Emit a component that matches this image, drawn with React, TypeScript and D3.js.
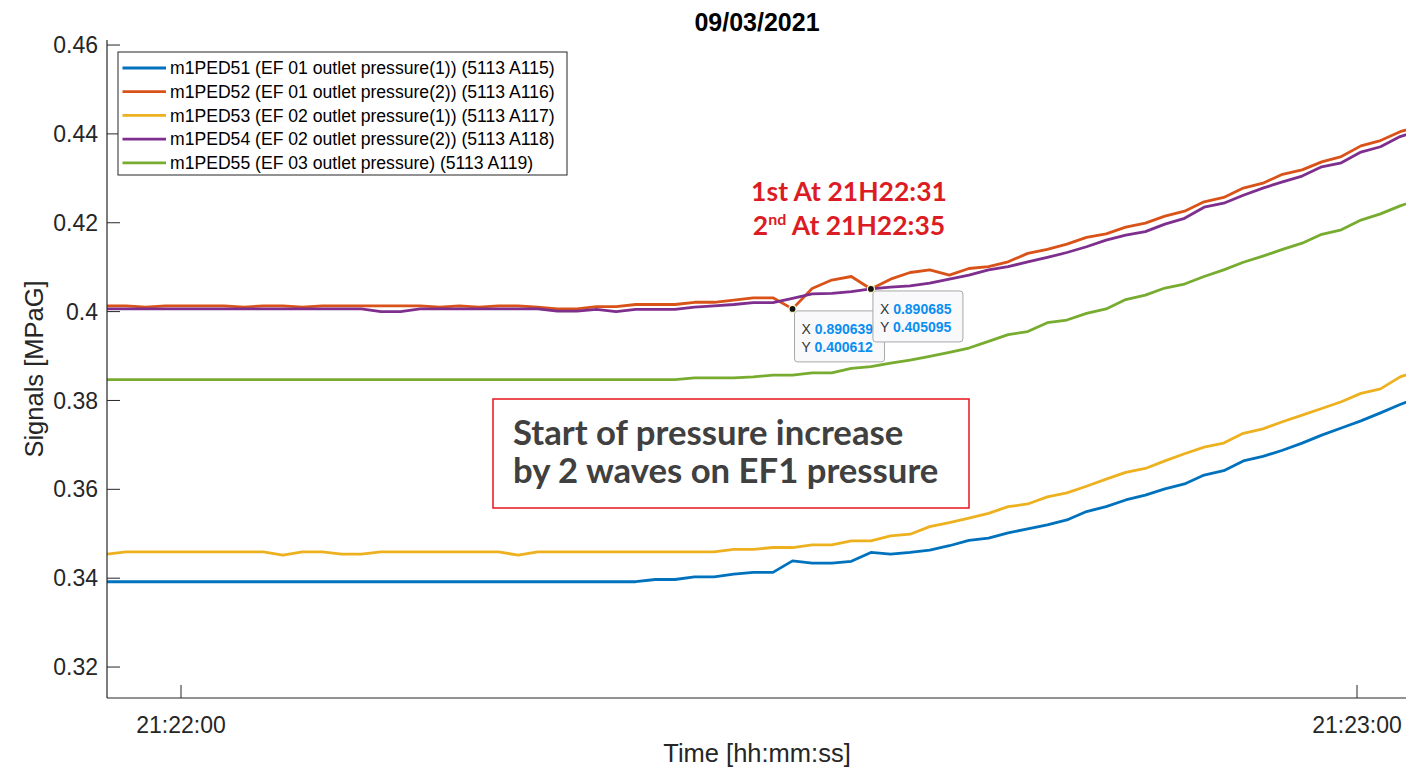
import React from "react";
import * as d3 from "d3";

// ---------- DATA ----------
const TITLE = "09/03/2021";
const SAMPLE_START_S = -3.8; // seconds relative to 21:22:00
const SAMPLE_STEP_S = 1; // 1 Hz sampling
const seriesNames = [
  "m1PED51 (EF 01 outlet pressure(1)) (5113 A115)",
  "m1PED52 (EF 01 outlet pressure(2)) (5113 A116)",
  "m1PED53 (EF 02 outlet pressure(1)) (5113 A117)",
  "m1PED54 (EF 02 outlet pressure(2)) (5113 A118)",
  "m1PED55 (EF 03 outlet pressure) (5113 A119)",
];
const seriesColors = ["#0072BD", "#D95319", "#EDB120", "#7E2F8E", "#77AC30"];

const m1PED51 = [
  0.3392, 0.3392, 0.3392, 0.3392, 0.3392, 0.3392, 0.3392, 0.3392, 0.3392, 0.3392,
  0.3392, 0.3392, 0.3392, 0.3392, 0.3392, 0.3392, 0.3392, 0.3392, 0.3392, 0.3392,
  0.3392, 0.3392, 0.3392, 0.3392, 0.3392, 0.3392, 0.3392, 0.3392, 0.3397, 0.3397,
  0.3403, 0.3403, 0.3409, 0.3413, 0.3413, 0.3439, 0.3434, 0.3434, 0.3438, 0.3458,
  0.3454, 0.3458, 0.3463, 0.3473, 0.3485, 0.349, 0.3502, 0.3511, 0.352, 0.3531,
  0.355, 0.3561, 0.3576, 0.3587, 0.3601, 0.3612, 0.3632, 0.3642, 0.3664, 0.3674,
  0.3688, 0.3704, 0.3722, 0.3738, 0.3754, 0.3772, 0.3791, 0.3808,
];
const m1PED52 = [
  0.4013, 0.4013, 0.401, 0.4013, 0.4013, 0.4013, 0.4013, 0.401, 0.4013, 0.4013,
  0.401, 0.4013, 0.4013, 0.4013, 0.4013, 0.4013, 0.4013, 0.401, 0.4013, 0.401,
  0.4013, 0.4013, 0.401, 0.4006, 0.4006, 0.4011, 0.4011, 0.4016, 0.4016, 0.4016,
  0.4021, 0.4021, 0.4026, 0.4031, 0.4031, 0.400612, 0.4052, 0.4071, 0.4079, 0.405095,
  0.4073, 0.4088, 0.4094, 0.4082, 0.4097, 0.4101, 0.4112, 0.4131, 0.414, 0.4152,
  0.4167, 0.4175, 0.419, 0.4199, 0.4215, 0.4226, 0.4247, 0.4257, 0.4278, 0.4289,
  0.4309, 0.4319, 0.4337, 0.4349, 0.4373, 0.4385, 0.4405, 0.4418,
];
const m1PED53 = [
  0.3454, 0.3459, 0.3459, 0.3459, 0.3459, 0.3459, 0.3459, 0.3459, 0.3459, 0.3452,
  0.3459, 0.3459, 0.3454, 0.3454, 0.3459, 0.3459, 0.3459, 0.3459, 0.3459, 0.3459,
  0.3459, 0.3452, 0.3459, 0.3459, 0.3459, 0.3459, 0.3459, 0.3459, 0.3459, 0.3459,
  0.3459, 0.3459, 0.3465, 0.3465, 0.3469, 0.3469, 0.3475, 0.3475, 0.3484, 0.3484,
  0.3495, 0.3499, 0.3516, 0.3525, 0.3535, 0.3546, 0.3561, 0.3567, 0.3583, 0.3592,
  0.3607, 0.3623, 0.3638, 0.3647, 0.3664, 0.368, 0.3695, 0.3704, 0.3726, 0.3736,
  0.3752, 0.3767, 0.3782, 0.3797, 0.3816, 0.3826, 0.3853, 0.3868,
];
const m1PED54 = [
  0.4006, 0.4006, 0.4006, 0.4006, 0.4006, 0.4006, 0.4006, 0.4006, 0.4006, 0.4006,
  0.4006, 0.4006, 0.4006, 0.4006, 0.4, 0.4, 0.4006, 0.4006, 0.4006, 0.4006,
  0.4006, 0.4006, 0.4006, 0.4001, 0.4001, 0.4005, 0.4, 0.4005, 0.4005, 0.4005,
  0.401, 0.4013, 0.4016, 0.402, 0.402, 0.403, 0.404, 0.4041, 0.4045, 0.4051,
  0.4055, 0.4058, 0.4064, 0.4073, 0.4082, 0.4094, 0.4101, 0.4112, 0.4122, 0.4133,
  0.4146, 0.4161, 0.4172, 0.418, 0.4197, 0.421, 0.4235, 0.4244, 0.4262, 0.4278,
  0.4292, 0.4305, 0.4326, 0.4335, 0.4359, 0.4371, 0.4394, 0.4407,
];
const m1PED55 = [
  0.3847, 0.3847, 0.3847, 0.3847, 0.3847, 0.3847, 0.3847, 0.3847, 0.3847, 0.3847,
  0.3847, 0.3847, 0.3847, 0.3847, 0.3847, 0.3847, 0.3847, 0.3847, 0.3847, 0.3847,
  0.3847, 0.3847, 0.3847, 0.3847, 0.3847, 0.3847, 0.3847, 0.3847, 0.3847, 0.3847,
  0.3851, 0.3851, 0.3851, 0.3853, 0.3857, 0.3857, 0.3862, 0.3862, 0.3872, 0.3876,
  0.3884, 0.3891, 0.3899, 0.3908, 0.3918, 0.3933, 0.3948, 0.3955, 0.3975, 0.3981,
  0.3996, 0.4006, 0.4027, 0.4037, 0.4053, 0.4062, 0.4079, 0.4094, 0.4111, 0.4125,
  0.414, 0.4154, 0.4174, 0.4184, 0.4206, 0.422, 0.4238, 0.4253,
];
const allSeries = [m1PED51, m1PED52, m1PED53, m1PED54, m1PED55];

const yTicks = [0.32, 0.34, 0.36, 0.38, 0.4, 0.42, 0.44, 0.46];
const yTickLabels = ["0.32", "0.34", "0.36", "0.38", "0.4", "0.42", "0.44", "0.46"];
const xTickSeconds = [0, 60];
const xTickLabels = ["21:22:00", "21:23:00"];

// data tips on m1PED52
const dataTips = [
  { series: 1, sample: 35, xLabel: "0.890639", yLabel: "0.400612" },
  { series: 1, sample: 39, xLabel: "0.890685", yLabel: "0.405095" },
];

// ---------- LAYOUT ----------
const W = 1406;
const H = 770;
const PL = 107;
const PB = 698;
const PT = 40;
const PR = 1406;

const FONT = "'Liberation Sans', Arial, Helvetica, sans-serif";
const AX = "#262626";

export default function App() {
  const times = m1PED51.map((_, i) => SAMPLE_START_S + i * SAMPLE_STEP_S);
  const x = d3.scaleLinear().domain([0, 60]).range([181, 1357]);
  const y = d3.scaleLinear().domain([0.31303, 0.46113]).range([PB, PT]);
  const line = d3
    .line<number>()
    .x((_, i) => x(times[i]))
    .y((d) => y(d));

  return (
    <svg
      width={W}
      height={H}
      style={{ position: "absolute", left: 0, top: 0, background: "#fff" }}
      fontFamily={FONT}
    >
      <defs>
        <clipPath id="plotclip">
          <rect x={PL} y={PT} width={PR - PL} height={PB - PT} />
        </clipPath>
      </defs>
      <rect x={0} y={0} width={W} height={H} fill="#fff" />

      {/* title */}
      <text x={757} y={31} textAnchor="middle" fontSize={25} fontWeight="bold" fill="#000">
        {TITLE}
      </text>

      {/* lines */}
      <g clipPath="url(#plotclip)">
        {allSeries.map((s, i) => (
          <path
            key={i}
            d={line(s) || ""}
            fill="none"
            stroke={seriesColors[i]}
            strokeWidth={2.8}
            strokeLinejoin="round"
          />
        ))}
      </g>

      {/* axes */}
      <line x1={PL} x2={PL} y1={PT} y2={PB} stroke={AX} strokeWidth={1.2} />
      <line x1={PL} x2={PR} y1={PB} y2={PB} stroke={AX} strokeWidth={1.2} />
      {yTicks.map((t, i) => (
        <g key={t}>
          <line x1={PL} x2={PL + 13} y1={y(t)} y2={y(t)} stroke={AX} strokeWidth={1} />
          <text x={98} y={y(t)} dy="0.35em" textAnchor="end" fontSize={23} fill={AX}>
            {yTickLabels[i]}
          </text>
        </g>
      ))}
      {xTickSeconds.map((t, i) => (
        <g key={t}>
          <line x1={x(t)} x2={x(t)} y1={PB} y2={PB - 13} stroke={AX} strokeWidth={1} />
          <text x={x(t)} y={733} textAnchor="middle" fontSize={23} fill={AX}>
            {xTickLabels[i]}
          </text>
        </g>
      ))}
      <text x={757} y={762} textAnchor="middle" fontSize={25.5} fill={AX}>
        Time [hh:mm:ss]
      </text>
      <text
        transform={`translate(43, 369) rotate(-90)`}
        textAnchor="middle"
        fontSize={25.5}
        fill={AX}
      >
        Signals [MPaG]
      </text>

      {/* legend */}
      <g>
        <rect x={118} y={52} width={449} height={123} fill="#fff" stroke={AX} strokeWidth={1} />
        {seriesNames.map((n, i) => {
          const ly = 68 + i * 23.7;
          return (
            <g key={n}>
              <line x1={122.5} x2={166} y1={ly} y2={ly} stroke={seriesColors[i]} strokeWidth={2.8} />
              <text x={170} y={ly} dy="0.35em" fontSize={17.6} fill="#000">
                {n}
              </text>
            </g>
          );
        })}
      </g>

      {/* data tips */}
      {dataTips.map((d, i) => {
        const px = x(times[d.sample]);
        const py = y(allSeries[d.series][d.sample]);
        const bx = px + 2;
        const by = py + 2;
        return (
          <g key={i}>
            <rect x={bx} y={by} width={90} height={51} rx={3} fill="#f9f9fc" stroke="#a8a8a8" strokeWidth={1} />
            <text x={bx + 7} y={by + 18} dy="0.35em" fontSize={14}>
              <tspan fill="#333">X </tspan>
              <tspan fill="#0a8ff0" fontWeight="bold">{d.xLabel}</tspan>
            </text>
            <text x={bx + 7} y={by + 36} dy="0.35em" fontSize={14}>
              <tspan fill="#333">Y </tspan>
              <tspan fill="#0a8ff0" fontWeight="bold">{d.yLabel}</tspan>
            </text>
            <circle cx={px} cy={py} r={3.5} fill="#111" stroke="#fff3c8" strokeWidth={1.2} />
          </g>
        );
      })}

      {/* annotations */}
      <g fontFamily="Lato, 'Open Sans', sans-serif" fontWeight="bold" fill="#dc1c24">
        <text x={849} y={201} textAnchor="middle" fontSize={26.5}>
          1st At 21H22:31
        </text>
        <text x={849} y={235} textAnchor="middle" fontSize={26.5}>
          2<tspan fontSize={16} dy={-10}>nd</tspan>
          <tspan dy={10}> At 21H22:35</tspan>
        </text>
      </g>
      <rect x={493} y={399} width={476} height={109} fill="none" stroke="#e8141c" strokeWidth={1.5} />
      <g fontFamily="Lato, 'Open Sans', sans-serif" fontWeight="bold" fill="#404040" fontSize={34.7}>
        <text x={513} y={445}>Start of pressure increase</text>
        <text x={513} y={483}>by 2 waves on EF1 pressure</text>
      </g>
    </svg>
  );
}
